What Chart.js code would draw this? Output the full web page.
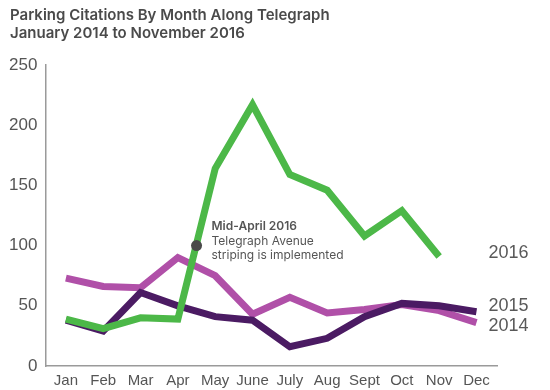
<!DOCTYPE html>
<html><head><meta charset="utf-8">
<script src="https://cdn.jsdelivr.net/npm/chart.js@4"></script>
<style>html,body{margin:0;padding:0;background:#fff}#wrap{width:550px;height:390px}</style>
</head><body><div id="wrap"><canvas id="c" width="550" height="390"></canvas></div>
<script>
const months = ["Jan","Feb","Mar","Apr","May","June","July","Aug","Sept","Oct","Nov","Dec"];
const yTicks = [0,50,100,150,200,250];
const v2014 = [73,66,65,90,75,43,57,44,47,51,46,36];
const v2015 = [38,29,61,50,41,38,16,23,41,52,50,45];
const v2016 = [39,31,40,39,164,217,159,146,108,129,91];
const markerX = [3.5];
const markerY = [100];
const titleLines = ["Parking Citations By Month Along Telegraph","January 2014 to November 2016"];
const noteLines = ["Mid-April 2016","Telegraph Avenue","striping is implemented"];

const pts = arr => arr.map((v,i)=>({x:i,y:v}));
const textPlugin = {
  id:'texts',
  afterDraw(chart){
    const ctx = chart.ctx, xs = chart.scales.x, ys = chart.scales.y;
    ctx.save();
    ctx.fillStyle = '#4a4a4a';
    ctx.textBaseline = 'middle';
    ctx.textAlign = 'left';
    ctx.font = '600 15px Inter';
    ctx.fillText(titleLines[0], 10, 15);
    ctx.fillText(titleLines[1], 10, 33);
    // series labels
    ctx.fillStyle = '#595959';
    ctx.font = '18px "Liberation Sans"';
    const lx = xs.getPixelForValue(11) + 12;
    ctx.fillText('2016', lx, ys.getPixelForValue(v2016[10]) - 3);
    ctx.fillText('2015', lx, ys.getPixelForValue(v2015[11]) - 6);
    ctx.fillText('2014', lx, ys.getPixelForValue(v2014[11]) + 3);
    // note
    const nx = xs.getPixelForValue(markerX[0]) + 15;
    const ny = ys.getPixelForValue(markerY[0]);
    ctx.fillStyle = '#555';
    ctx.font = '600 12px Inter';
    ctx.fillText(noteLines[0], nx, ny - 19);
    ctx.font = '12px Inter';
    ctx.fillText(noteLines[1], nx, ny - 4);
    ctx.fillText(noteLines[2], nx, ny + 10);
    ctx.restore();
  }
};

new Chart(document.getElementById('c'), {
  type:'line',
  data:{datasets:[
    {label:'marker', data: markerX.map((x,i)=>({x, y:markerY[i]})), showLine:false, pointRadius:5.5, pointBackgroundColor:'#4a4a4a', pointBorderWidth:0, order:0},
    {label:'2016', data:pts(v2016), borderColor:'#4cb848', borderWidth:7, pointRadius:0, tension:0, order:1},
    {label:'2015', data:pts(v2015), borderColor:'#4b1b63', borderWidth:7, pointRadius:0, tension:0, order:2},
    {label:'2014', data:pts(v2014), borderColor:'#b050a8', borderWidth:7, pointRadius:0, tension:0, order:3}
  ]},
  options:{
    responsive:false, animation:false, devicePixelRatio:1,
    layout:{padding:{left:1,top:65,right:53,bottom:-6}},
    plugins:{legend:{display:false}, title:{display:false}, tooltip:{enabled:false}},
    scales:{
      x:{type:'linear', min:-0.55, max:11.55,
        afterBuildTicks(s){ s.ticks = months.map((m,i)=>({value:i})); },
        grid:{display:false, drawTicks:false},
        border:{color:'#9a9a9a', width:1.5},
        ticks:{padding:6, color:'#555', font:{family:'Liberation Sans', size:15}, callback:(v)=>months[v], autoSkip:false, maxRotation:0}
      },
      y:{min:0, max:250,
        afterBuildTicks(s){ s.ticks = yTicks.map(v=>({value:v})); },
        grid:{display:false, drawTicks:false},
        border:{color:'#9a9a9a', width:1.5},
        ticks:{padding:8, color:'#555', font:{family:'Liberation Sans', size:17}}
      }
    }
  },
  plugins:[textPlugin]
});
</script></body></html>
